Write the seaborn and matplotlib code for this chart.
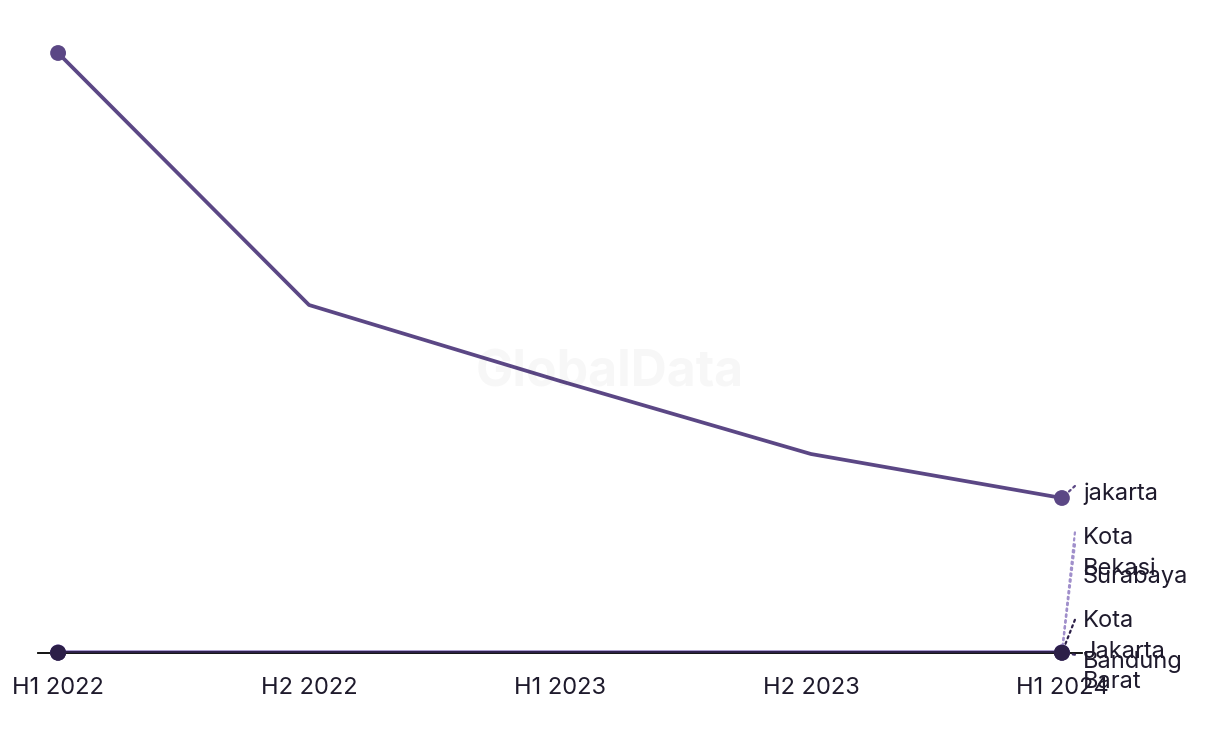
import matplotlib
matplotlib.use("Agg")
import matplotlib.pyplot as plt
import pandas as pd
import seaborn as sns

# ---- data ----
periods = ["H1 2022", "H2 2022", "H1 2023", "H2 2023", "H1 2024"]
series_names = ["Kota Bekasi", "Surabaya", "Bandung", "Kota Jakarta Barat", "jakarta"]
series_labels = ["Kota\nBekasi", "Surabaya", "Bandung", "Kota\nJakarta\nBarat", "jakarta"]
kota_bekasi = [0.6, 0.6, 0.6, 0.6, 0.6]
surabaya = [0.5, 0.5, 0.5, 0.5, 0.5]
bandung = [0.3, 0.3, 0.3, 0.3, 0.3]
kota_jakarta_barat = [0.2, 0.2, 0.2, 0.2, 0.2]
jakarta = [600, 348, 272, 199, 155]
series_values = [kota_bekasi, surabaya, bandung, kota_jakarta_barat, jakarta]

# ---- style / layout ----
colors = ["#a08fcb", "#a08fcb", "#3a2a5e", "#2c1f48", "#5b4785"]
label_dy_px = [99, 75, -9, 1, 4]
leader_dy_px = [120, 108, -2, 33, 12]
text_color = "#1e1a2c"

sns.set_theme(style="white")
plt.rcParams["font.family"] = ["Inter", "DejaVu Sans"]

rows = []
for name, vals in zip(series_names, series_values):
    for p, v in zip(periods, vals):
        rows.append({"period": p, "value": v, "series": name})
df = pd.DataFrame(rows)
palette = dict(zip(series_names, colors))

fig = plt.figure(figsize=(12.2, 7.44), dpi=100)
ax = fig.add_axes([38 / 1220, 1 - 653 / 744, (1082 - 38) / 1220, (653 - 30) / 744])

fig.text(0.5, 1 - 373 / 744, "GlobalData", ha="center", va="center",
         fontsize=36, fontweight="bold", color="#000000", alpha=0.03, zorder=0)

sns.lineplot(data=df, x="period", y="value", hue="series", hue_order=series_names,
             palette=palette, linewidth=2.7, legend=False, sort=False, ax=ax, zorder=3)
ends = df[df["period"].isin([periods[0], periods[-1]])]
sns.scatterplot(data=ends, x="period", y="value", hue="series", hue_order=series_names,
                palette=palette, s=130, edgecolor="none", legend=False, ax=ax,
                clip_on=False, zorder=4)

ax.set_xlim(-0.08, 4.08)
ax.set_ylim(0, 623)

last = len(periods) - 1
for name, lab, vals, col, dy, ldy in zip(series_names, series_labels, series_values,
                                         colors, label_dy_px, leader_dy_px):
    # dotted leader line
    ax.annotate("", xy=(last, vals[-1]), xytext=(13, ldy), textcoords="offset pixels",
                annotation_clip=False,
                arrowprops=dict(arrowstyle="-", linestyle=":", color=col, lw=1.6,
                                shrinkA=0, shrinkB=0))
    # label
    ax.annotate(lab, xy=(last, vals[-1]), xytext=(21, dy),
                textcoords="offset pixels", ha="left", va="center", fontsize=17,
                color=text_color, linespacing=1.5, annotation_clip=False)

for s in ["top", "right", "left"]:
    ax.spines[s].set_visible(False)
ax.spines["bottom"].set_color("#000000")
ax.spines["bottom"].set_linewidth(1.3)
ax.spines["bottom"].set_zorder(2)
ax.set_yticks([])
ax.set_xlabel("")
ax.set_ylabel("")
ax.tick_params(axis="x", length=0, pad=17, labelsize=17, labelcolor=text_color)
ax.grid(False)

fig.savefig("out.png", dpi=100)
